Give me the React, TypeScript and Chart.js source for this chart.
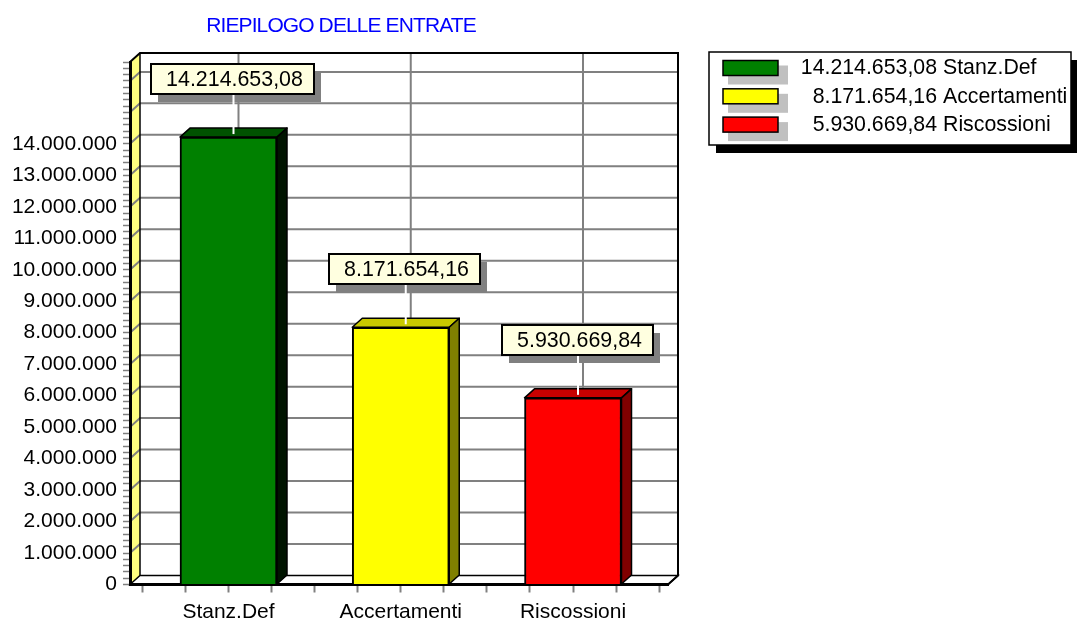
import React, { useEffect, useRef } from 'react';
import { Chart, registerables } from 'chart.js';

Chart.register(...registerables);

// ---- data ----
const title = 'RIEPILOGO DELLE ENTRATE';
const categories = ['Stanz.Def', 'Accertamenti', 'Riscossioni'];
const values = [14214653.08, 8171654.16, 5930669.84];
const yMajorStep = 1000000;
const yMinorStep = 200000;
const yMax = 16600000;

// ---- styles ----
const FRONT = ['#008000', '#ffff00', '#ff0000'];
const TOP = ['#005200', '#c8c800', '#c80000'];
const SIDE = ['#001400', '#808000', '#800000'];
const DX = 10;
const DY = 9;
const FONT = "'Liberation Sans', Arial, Helvetica, sans-serif";

function fmt(v: number, dec: number): string {
  const s = v.toFixed(dec);
  const [i, d] = s.split('.');
  const ii = i.replace(/\B(?=(\d{3})+(?!\d))/g, '.');
  return d ? ii + ',' + d : ii;
}

function isMajor(v: number): boolean {
  const k = v / yMajorStep;
  return Math.abs(k - Math.round(k)) < 1e-6;
}

const threeD = {
  id: 'threeD',
  beforeDraw(chart: any) {
    const { ctx, chartArea: a, scales } = chart;
    const L = a.left, R = a.right, T = a.top, B = a.bottom;
    ctx.save();
    // back wall
    ctx.fillStyle = '#ffffff';
    ctx.fillRect(L + DX, T - DY, R - L, B - T);
    // left wall
    ctx.beginPath();
    ctx.moveTo(L, T);
    ctx.lineTo(L + DX, T - DY);
    ctx.lineTo(L + DX, B - DY);
    ctx.lineTo(L, B);
    ctx.closePath();
    ctx.fillStyle = '#ffff80';
    ctx.fill();
    // gridlines
    ctx.strokeStyle = '#808080';
    ctx.lineWidth = 2;
    for (const t of scales.y.ticks) {
      if (t.value <= 0 || !isMajor(t.value)) continue;
      const y = scales.y.getPixelForValue(t.value);
      ctx.beginPath();
      ctx.moveTo(L, y);
      ctx.lineTo(L + DX, y - DY);
      ctx.lineTo(R + DX, y - DY);
      ctx.stroke();
    }
    for (let i = 0; i < categories.length; i++) {
      const x = scales.x.getPixelForValue(i) + DX;
      ctx.beginPath();
      ctx.moveTo(x, T - DY);
      ctx.lineTo(x, B - DY);
      ctx.stroke();
    }
    // floor
    ctx.beginPath();
    ctx.moveTo(L, B);
    ctx.lineTo(L + DX, B - DY);
    ctx.lineTo(R + DX, B - DY);
    ctx.lineTo(R, B);
    ctx.closePath();
    ctx.fillStyle = '#ffffff';
    ctx.fill();
    ctx.strokeStyle = '#000';
    ctx.lineWidth = 1.5;
    ctx.stroke();
    // left wall back edge
    ctx.beginPath();
    ctx.moveTo(L + DX, T - DY);
    ctx.lineTo(L + DX, B - DY);
    ctx.stroke();
    // outline
    ctx.lineWidth = 2;
    ctx.beginPath();
    ctx.moveTo(L, T);
    ctx.lineTo(L + DX, T - DY);
    ctx.lineTo(R + DX, T - DY);
    ctx.lineTo(R + DX, B - DY);
    ctx.lineTo(R, B);
    ctx.stroke();
    ctx.restore();
  },
  beforeDatasetsDraw(chart: any) {
    const { ctx } = chart;
    const meta = chart.getDatasetMeta(0);
    ctx.save();
    ctx.strokeStyle = '#000';
    ctx.lineWidth = 1.5;
    ctx.lineJoin = 'round';
    meta.data.forEach((el: any, i: number) => {
      const { x, y, base, width } = el.getProps(['x', 'y', 'base', 'width'], true);
      const l = x - width / 2, r = x + width / 2;
      // top face
      ctx.beginPath();
      ctx.moveTo(l, y);
      ctx.lineTo(l + DX, y - DY);
      ctx.lineTo(r + DX, y - DY);
      ctx.lineTo(r, y);
      ctx.closePath();
      ctx.fillStyle = TOP[i];
      ctx.fill();
      ctx.stroke();
      // side face
      ctx.beginPath();
      ctx.moveTo(r, y);
      ctx.lineTo(r + DX, y - DY);
      ctx.lineTo(r + DX, base - DY);
      ctx.lineTo(r, base);
      ctx.closePath();
      ctx.fillStyle = SIDE[i];
      ctx.fill();
      ctx.stroke();
    });
    ctx.restore();
  },
  afterDraw(chart: any) {
    const { ctx } = chart;
    const meta = chart.getDatasetMeta(0);
    ctx.save();
    // value labels
    ctx.font = `21.4px ${FONT}`;
    ctx.textAlign = 'center';
    ctx.textBaseline = 'middle';
    meta.data.forEach((el: any, i: number) => {
      const { x, y } = el.getProps(['x', 'y'], true);
      const text = fmt(values[i], 2);
      const tw = ctx.measureText(text).width;
      const bw = Math.round(tw + 26), bh = 30;
      const cx = x + 4;
      const by = Math.round(y - 43 - bh);
      const bx = Math.round(cx - bw / 2);
      ctx.fillStyle = '#808080';
      ctx.fillRect(bx + 7, by + 8, bw, bh);
      ctx.strokeStyle = '#ffffff';
      ctx.lineWidth = 2;
      ctx.beginPath();
      ctx.moveTo(x + 5, by + bh);
      ctx.lineTo(x + 5, y - 3);
      ctx.stroke();
      ctx.fillStyle = '#ffffe0';
      ctx.fillRect(bx, by, bw, bh);
      ctx.strokeStyle = '#000';
      ctx.lineWidth = 2;
      ctx.strokeRect(bx, by, bw, bh);
      ctx.fillStyle = '#000';
      ctx.fillText(text, bx + bw / 2 + 2, by + bh / 2 + 1);
    });

    // title
    ctx.font = `21px ${FONT}`;
    (ctx as any).letterSpacing = '-0.9px';
    ctx.fillStyle = '#0000ff';
    ctx.textAlign = 'center';
    ctx.textBaseline = 'alphabetic';
    ctx.fillText(title, 341, 32);
    (ctx as any).letterSpacing = '0px';

    // legend
    const lx = 709, ly = 52, lw = 362, lh = 93;
    ctx.fillStyle = '#000';
    ctx.fillRect(lx + 7, ly + 8, lw, lh);
    ctx.fillStyle = '#fff';
    ctx.fillRect(lx, ly, lw, lh);
    ctx.strokeStyle = '#000';
    ctx.lineWidth = 1.5;
    ctx.strokeRect(lx, ly, lw, lh);
    ctx.font = `21.3px ${FONT}`;
    ctx.textBaseline = 'middle';
    categories.forEach((c, i) => {
      const sy = 60.5 + i * 28.3;
      ctx.fillStyle = '#c0c0c0';
      ctx.fillRect(728, sy + 5, 60, 19);
      ctx.fillStyle = FRONT[i];
      ctx.fillRect(723, sy, 55, 15);
      ctx.strokeStyle = '#000';
      ctx.lineWidth = 1.5;
      ctx.strokeRect(723, sy, 55, 15);
      ctx.fillStyle = '#000';
      ctx.textAlign = 'right';
      ctx.fillText(fmt(values[i], 2), 937, sy + 8);
      ctx.textAlign = 'left';
      ctx.fillText(c, 943, sy + 8);
    });
    ctx.restore();
  },
};

export default function App() {
  const ref = useRef<HTMLCanvasElement>(null);
  useEffect(() => {
    const canvas = ref.current!;
    Chart.defaults.font.family = FONT;
    const chart = new Chart(canvas, {
      type: 'bar',
      data: {
        datasets: [
          {
            data: categories.map((c, i) => ({ x: i, y: values[i] })),
            backgroundColor: FRONT,
            borderColor: '#000',
            borderWidth: 2,
            borderSkipped: 'bottom',
            barThickness: 97,
          },
        ],
      },
      options: {
        responsive: false,
        animation: false,
        events: [],
        layout: { padding: { left: 0, top: 62, right: 409, bottom: 0 } },
        plugins: { legend: { display: false }, tooltip: { enabled: false }, title: { display: false } },
        scales: {
          x: {
            type: 'linear',
            min: -0.5718,
            max: 2.5515,
            offset: false,
            afterBuildTicks: (s: any) => {
              const t: any[] = [];
              for (let v = -0.5; v <= categories.length - 0.5 + 1e-9; v += 0.25) t.push({ value: v });
              s.ticks = t;
            },
            afterFit: (s: any) => {
              s.height = 38.5;
            },
            ticks: {
              autoSkip: false,
              maxRotation: 0,
              color: '#000',
              font: { size: 21 },
              padding: 7,
              callback: (v: any) => (Number.isInteger(v) ? categories[v] : ''),
            },
            grid: {
              offset: false,
              drawOnChartArea: false,
              drawTicks: true,
              tickLength: 8,
              tickColor: '#808080',
              tickWidth: 2,
            },
            border: { color: '#000', width: 3 },
          },
          y: {
            type: 'linear',
            min: 0,
            max: yMax,
            afterFit: (s: any) => {
              s.width = 130;
            },
            ticks: {
              stepSize: yMinorStep,
              autoSkip: false,
              color: '#000',
              font: { size: 21 },
              padding: 6,
              callback: (v: any) =>
                isMajor(v) && v <= Math.max(...values) ? fmt(Math.round(v), 0) : '',
            },
            grid: { drawOnChartArea: false, drawTicks: true, tickLength: 7, tickColor: '#808080', tickWidth: 1.5 },
            border: { color: '#000', width: 3 },
          },
        },
      },
      plugins: [threeD],
    } as any);
    return () => chart.destroy();
  }, []);
  return (
    <div style={{ position: 'fixed', left: 0, top: 0, width: 1077, height: 623, background: '#fff' }}>
      <canvas ref={ref} width={1077} height={623} style={{ display: 'block' }} />
    </div>
  );
}
